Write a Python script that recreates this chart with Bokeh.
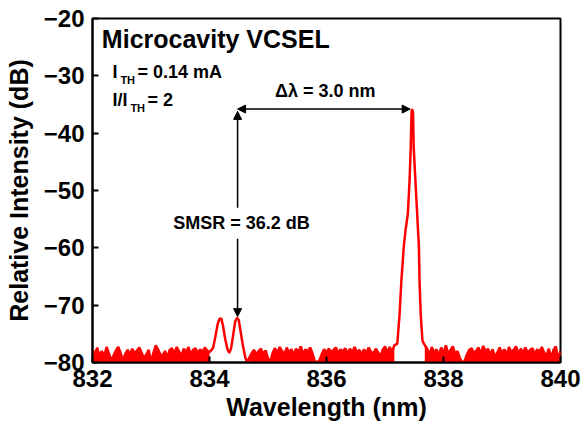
from bokeh.plotting import figure
from bokeh.models import Arrow, NormalHead, Label, Range1d, FixedTicker
from bokeh.embed import file_html
from bokeh.resources import INLINE

# ---- data ----
noise_step = 0.04
noise_left_start = 832.00
noise_left = [-77.8, -78.6, -77.4, -78.9, -78.0, -79.0, -77.3, -78.4, -79.6, -78.8,
              -77.9, -77.3, -78.3, -79.7, -78.5, -77.8, -78.7, -77.6, -78.4, -77.9,
              -77.4, -78.3, -79.2, -78.6, -77.8, -79.9, -78.4, -77.0, -77.7, -78.6,
              -78.8, -78.0, -79.1, -77.8, -77.5, -78.5, -77.3, -78.1, -78.9, -77.6,
              -78.3, -77.3, -78.6, -77.8, -77.5, -78.4, -77.7, -78.2, -77.4, -77.9, -78.2]
side_wl = [834.06, 834.10, 834.14, 834.17, 834.20, 834.23, 834.27, 834.31, 834.34,
           834.37, 834.40, 834.44, 834.47, 834.50, 834.53, 834.57, 834.61, 834.64]
side_db = [-77.5, -75.5, -73.3, -72.4, -72.3, -73.5, -76.0, -77.8, -78.3,
           -77.5, -75.5, -72.8, -72.2, -72.6, -74.5, -77.0, -79.0, -80.0]
noise_mid_start = 834.68
noise_mid = [-79.2, -78.4, -77.8, -78.6, -78.0, -77.6, -78.5, -77.9, -79.3, -79.9,
             -78.3, -77.5, -78.4, -77.3, -78.0, -78.6, -77.4, -78.3, -77.7, -78.7,
             -77.6, -78.2, -77.2, -78.5, -77.7, -78.1, -77.4, -78.4, -79.8, -79.9,
             -79.6, -78.5, -77.7, -78.3, -77.6, -78.2, -77.8, -77.4, -78.4, -77.7,
             -78.1, -77.5, -78.5, -77.6, -78.2, -77.3, -78.3, -77.8, -78.6, -77.7,
             -78.4, -77.4, -78.1, -78.5, -77.6, -78.2, -79.0, -77.8, -77.2, -78.3,
             -77.3, -78.1, -77.0]
peak_wl = [837.21, 837.25, 837.28, 837.32, 837.35, 837.39, 837.42, 837.44, 837.453, 837.46,
           837.47, 837.48, 837.49, 837.52, 837.55, 837.58, 837.59, 837.61, 837.64]
peak_db = [-76.7, -71.5, -65.7, -59.9, -57.0, -54.1, -48.3, -42.4, -36.6, -35.8,
           -36.0, -36.6, -42.4, -48.3, -54.1, -59.9, -65.7, -71.5, -76.2]
noise_right_start = 837.68
noise_right = [-77.0, -77.6, -78.6, -77.3, -78.3, -77.7, -78.8, -77.4, -78.4, -77.0,
               -78.5, -77.8, -77.2, -78.6, -78.0, -79.3, -79.9, -79.8, -78.6, -77.8,
               -77.5, -78.4, -77.9, -77.4, -78.5, -77.1, -78.2, -77.6, -78.6, -77.7,
               -79.0, -78.3, -77.4, -78.4, -77.7, -78.7, -77.3, -78.2, -77.8, -77.2,
               -78.5, -77.6, -78.3, -77.4, -78.4, -77.8, -77.5, -78.6, -77.7, -78.2,
               -77.3, -78.3, -78.8, -77.6, -79.2, -77.8, -77.2, -79.5, -78.0]

x_ticks = [832, 834, 836, 838, 840]
y_ticks = [-80, -70, -60, -50, -40, -30, -20]

main_peak = (837.46, -35.8)
side_peak = (834.48, -72.3)


def grid(start, n):
    return [round(start + i * noise_step, 3) for i in range(n)]


xl = grid(noise_left_start, len(noise_left))
xm = grid(noise_mid_start, len(noise_mid))
xr = grid(noise_right_start, len(noise_right))

all_x = xl + side_wl + xm + peak_wl + xr
all_y = noise_left + side_db + noise_mid + peak_db + noise_right

FONT = "Liberation Sans"
RED = "#ff0000"

p = figure(width=584, height=430, output_backend="svg", toolbar_location=None,
           x_range=Range1d(832, 840), y_range=Range1d(-80, -20),
           min_border_left=92, min_border_right=24, min_border_top=18, min_border_bottom=68)
p.xgrid.visible = False
p.ygrid.visible = False
p.outline_line_color = "black"
p.outline_line_width = 2
p.background_fill_color = "white"
p.border_fill_color = "white"

for xs, ys in ((xl, noise_left), (xm, noise_mid), (xr, noise_right)):
    p.varea(x=xs, y1=[-80] * len(xs), y2=ys, fill_color=RED)
p.line(all_x, all_y, line_color=RED, line_width=2.5)

for ax in (p.xaxis[0], p.yaxis[0]):
    ax.axis_line_width = 2
    ax.major_tick_in = 6
    ax.major_tick_out = 0
    ax.major_tick_line_width = 2
    ax.minor_tick_line_color = None
    ax.major_label_text_font = FONT
    ax.major_label_text_font_style = "bold"
    ax.major_label_text_font_size = "24px"
    ax.major_label_text_color = "black"
    ax.axis_label_text_font = FONT
    ax.axis_label_text_font_style = "bold"
    ax.axis_label_text_font_size = "25px"
    ax.axis_label_text_color = "black"

p.xaxis.ticker = FixedTicker(ticks=x_ticks)
p.yaxis.ticker = FixedTicker(ticks=y_ticks)
p.xaxis.axis_label = "Wavelength (nm)"
p.yaxis.axis_label = "Relative Intensity (dB)"
p.xaxis.major_label_standoff = 7
p.xaxis.axis_label_standoff = 3
p.yaxis.major_label_standoff = 8
p.yaxis.axis_label_standoff = 8


def lab(x, y, text, size, xo=0, yo=0, align="left", base="middle"):
    p.add_layout(Label(x=x, y=y, text=text, x_offset=xo, y_offset=yo,
                       text_font=FONT, text_font_style="bold", text_font_size=size,
                       text_align=align, text_baseline=base, text_color="black"))


lab(832.16, -23.5, "Microcavity VCSEL", "25px")
lab(832.34, -29.4, "I", "18px")
lab(832.34, -29.4, "TH", "11px", xo=8, yo=-8)
lab(832.34, -29.4, "= 0.14 mA", "18px", xo=25)
lab(832.34, -34.3, "I/I", "18px")
lab(832.34, -34.3, "TH", "11px", xo=18, yo=-8)
lab(832.34, -34.3, "= 2", "18px", xo=35)
lab(835.98, -32.6, "Δλ = 3.0 nm", "18px", align="center")
lab(833.38, -55.6, "SMSR = 36.2 dB", "18px")

ax_x = side_peak[0]
top_y = main_peak[1]
p.add_layout(Arrow(x_start=ax_x, y_start=top_y, x_end=main_peak[0] - 0.03, y_end=top_y,
                   line_width=1.5, line_color="black",
                   start=NormalHead(size=8, fill_color="black", line_color="black"),
                   end=NormalHead(size=8, fill_color="black", line_color="black")))
p.add_layout(Arrow(x_start=ax_x, y_start=-53.0, x_end=ax_x, y_end=top_y - 0.4,
                   line_width=1.5, line_color="black",
                   end=NormalHead(size=8, fill_color="black", line_color="black")))
p.add_layout(Arrow(x_start=ax_x, y_start=-58.4, x_end=ax_x, y_end=side_peak[1] + 0.3,
                   line_width=1.5, line_color="black",
                   end=NormalHead(size=8, fill_color="black", line_color="black")))

open("out.html", "w").write(file_html(p, INLINE))
